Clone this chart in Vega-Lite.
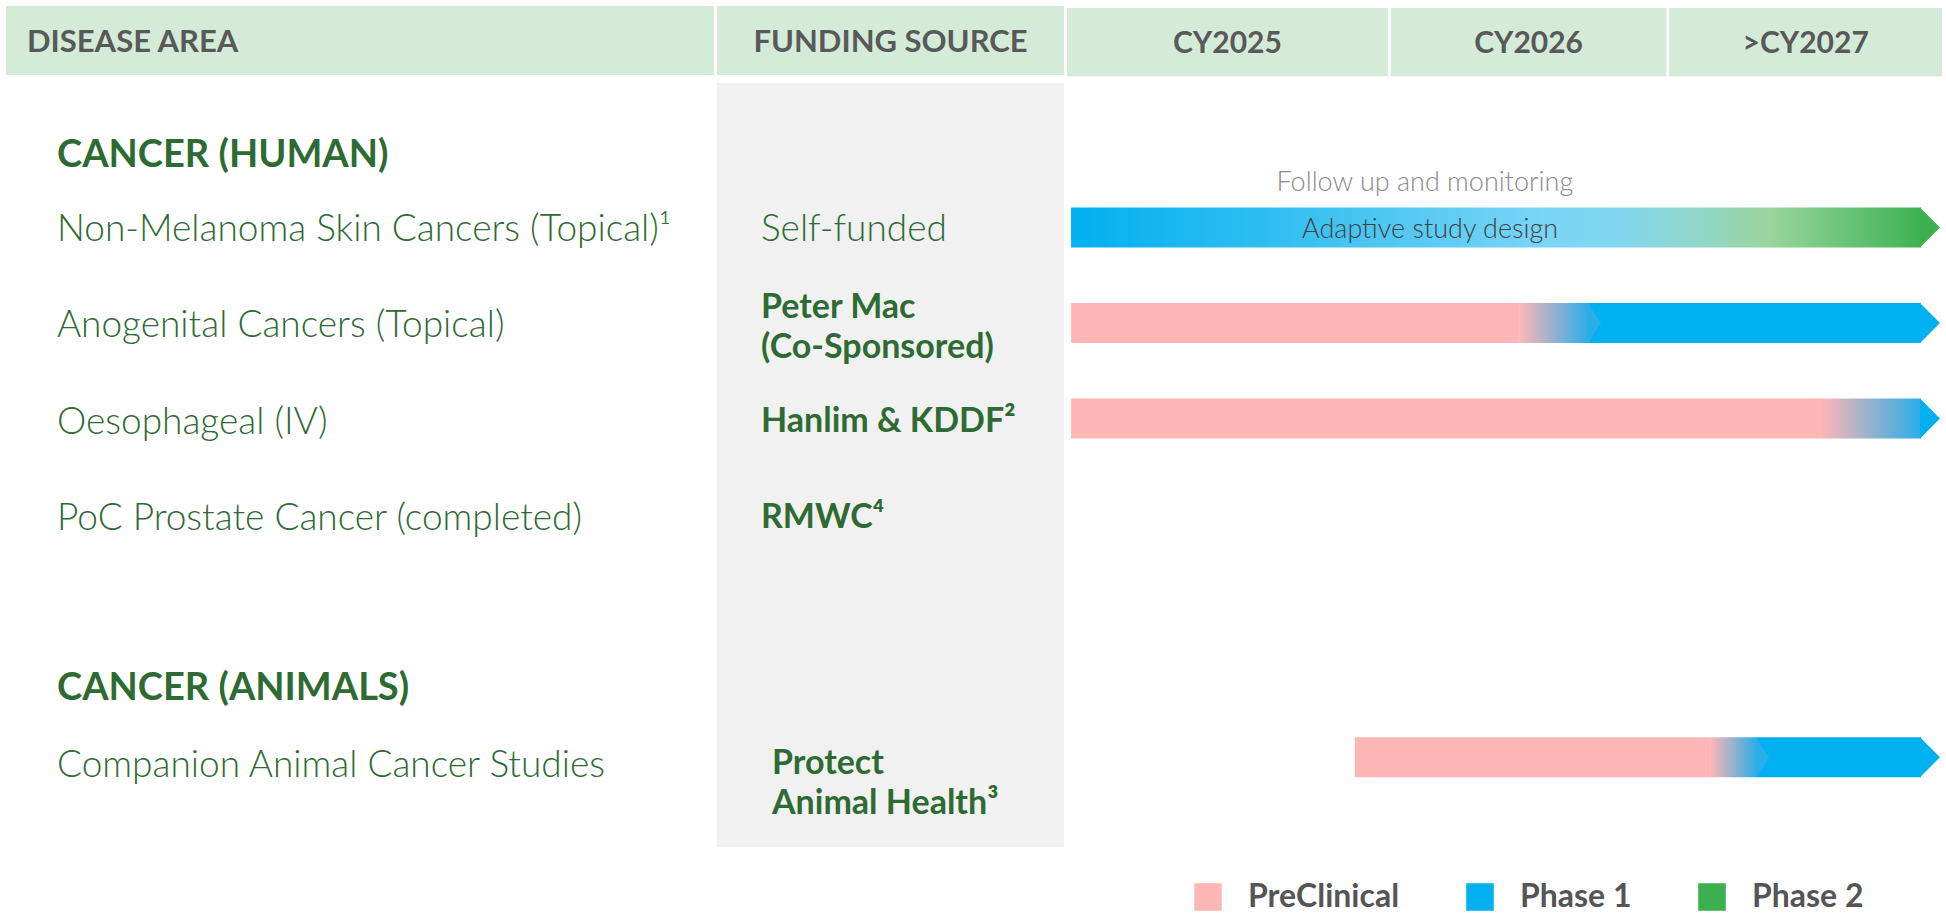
{
  "$schema": "https://vega.github.io/schema/vega-lite/v6.json",
  "padding": {"left": 6, "top": 6, "right": 4, "bottom": 0},
  "background": "white",
  "bounds": "flush",
  "spacing": 3,
  "config": {
    "view": {"stroke": null},
    "text": {"font": "Lato"},
    "legend": {"labelFont": "Lato"}
  },
  "datasets": {
    "columns": [
      {"column": "DISEASE AREA"},
      {"column": "FUNDING SOURCE"},
      {"column": "CY2025", "start": 2025.0, "end": 2026.1},
      {"column": "CY2026", "start": 2026.11, "end": 2027.055},
      {"column": ">CY2027", "start": 2027.065, "end": 2028.0}
    ],
    "sections": [
      {"section": "CANCER (HUMAN)", "line": 0.25},
      {"section": "CANCER (ANIMALS)", "line": 5.78}
    ],
    "programs": [
      {"program": "Non-Melanoma Skin Cancers (Topical)¹", "funding": "Self-funded", "line": 1},
      {"program": "Anogenital Cancers (Topical)", "funding": "Peter Mac\n(Co-Sponsored)", "line": 2},
      {"program": "Oesophageal (IV)", "funding": "Hanlim & KDDF²", "line": 3},
      {"program": "PoC Prostate Cancer (completed)", "funding": "RMWC⁴", "line": 4},
      {"program": "Companion Animal Cancer Studies", "funding": "Protect\nAnimal Health³", "line": 6.55}
    ],
    "segments": [
      {"line": 1, "phase": "Phase 1→Phase 2", "start": 2025.014, "end": 2027.928},
      {"line": 2, "phase": "PreClinical", "start": 2025.014, "end": 2026.55},
      {"line": 2, "phase": "Phase 1", "start": 2026.79, "end": 2027.928},
      {"line": 2, "phase": "PreClinical→Phase 1", "start": 2026.55, "end": 2026.79},
      {"line": 3, "phase": "PreClinical", "start": 2025.014, "end": 2027.585},
      {"line": 3, "phase": "PreClinical→Phase 1", "start": 2027.585, "end": 2027.928},
      {"line": 6.55, "phase": "PreClinical", "start": 2025.987, "end": 2027.205},
      {"line": 6.55, "phase": "Phase 1", "start": 2027.366, "end": 2027.928},
      {"line": 6.55, "phase": "PreClinical→Phase 1", "start": 2027.205, "end": 2027.366}
    ],
    "notes": [
      {"note": "Follow up and monitoring", "year": 2026.227, "line": 0.53, "kind": "above"},
      {"note": "Adaptive study design", "year": 2026.245, "line": 1.03, "kind": "inside"}
    ]
  },
  "resolve": {
    "scale": {"x": "independent", "y": "independent", "color": "independent"},
    "legend": {"color": "independent"}
  },
  "hconcat": [
    {
      "width": 708,
      "height": 907,
      "layer": [
        {
          "data": {"name": "columns"},
          "transform": [{"filter": "datum.column === 'DISEASE AREA'"}],
          "mark": {"type": "rect", "fill": "#D4EBD8"},
          "encoding": {
            "x": {"datum": 0, "type": "quantitative", "scale": {"domain": [0, 1]}, "axis": null},
            "x2": {"datum": 1},
            "y": {"datum": -1.3, "type": "quantitative", "scale": {"domain": [-1.3, 8.099], "reverse": true, "nice": false, "zero": false}, "axis": null},
            "y2": {"datum": -0.585}
          }
        },
        {
          "data": {"name": "columns"},
          "transform": [{"filter": "datum.column === 'DISEASE AREA'"}],
          "mark": {"type": "text", "align": "left", "baseline": "middle", "dx": 21, "dy": 2, "fontSize": 31, "fontWeight": "bold", "color": "#595959"},
          "encoding": {
            "x": {"datum": 0, "type": "quantitative", "scale": {"domain": [0, 1]}, "axis": null},
            "y": {"datum": -0.94, "type": "quantitative", "scale": {"domain": [-1.3, 8.099], "reverse": true, "nice": false, "zero": false}, "axis": null},
            "text": {"field": "column"}
          }
        },
        {
          "data": {"name": "sections"},
          "mark": {"type": "text", "align": "left", "baseline": "middle", "dx": 51, "fontSize": 38, "fontWeight": "bold", "color": "#2E6B33"},
          "encoding": {
            "x": {"datum": 0, "type": "quantitative", "scale": {"domain": [0, 1]}, "axis": null},
            "y": {"field": "line", "type": "quantitative", "scale": {"domain": [-1.3, 8.099], "reverse": true, "nice": false, "zero": false}, "axis": null},
            "text": {"field": "section"}
          }
        },
        {
          "data": {"name": "programs"},
          "mark": {"type": "text", "align": "left", "baseline": "middle", "dx": 51, "dy": 2, "fontSize": 37, "fontWeight": 300, "color": "#2E6B33"},
          "encoding": {
            "x": {"datum": 0, "type": "quantitative", "scale": {"domain": [0, 1]}, "axis": null},
            "y": {"field": "line", "type": "quantitative", "scale": {"domain": [-1.3, 8.099], "reverse": true, "nice": false, "zero": false}, "axis": null},
            "text": {"field": "program"}
          }
        }
      ]
    },
    {
      "width": 347,
      "height": 907,
      "layer": [
        {
          "data": {"name": "columns"},
          "transform": [{"filter": "datum.column === 'FUNDING SOURCE'"}],
          "mark": {"type": "rect", "fill": "#F1F1F1"},
          "encoding": {
            "x": {"datum": 0, "type": "quantitative", "scale": {"domain": [0, 1]}, "axis": null},
            "x2": {"datum": 1},
            "y": {"datum": -0.502, "type": "quantitative", "scale": {"domain": [-1.3, 8.099], "reverse": true, "nice": false, "zero": false}, "axis": null},
            "y2": {"datum": 7.415}
          }
        },
        {
          "data": {"name": "columns"},
          "transform": [{"filter": "datum.column === 'FUNDING SOURCE'"}],
          "mark": {"type": "rect", "fill": "#D4EBD8"},
          "encoding": {
            "x": {"datum": 0, "type": "quantitative", "scale": {"domain": [0, 1]}, "axis": null},
            "x2": {"datum": 1},
            "y": {"datum": -1.3, "type": "quantitative", "scale": {"domain": [-1.3, 8.099], "reverse": true, "nice": false, "zero": false}, "axis": null},
            "y2": {"datum": -0.585}
          }
        },
        {
          "data": {"name": "columns"},
          "transform": [{"filter": "datum.column === 'FUNDING SOURCE'"}],
          "mark": {"type": "text", "align": "center", "baseline": "middle", "dy": 2, "fontSize": 31, "fontWeight": "bold", "color": "#595959"},
          "encoding": {
            "x": {"datum": 0.5, "type": "quantitative", "scale": {"domain": [0, 1]}, "axis": null},
            "y": {"datum": -0.94, "type": "quantitative", "scale": {"domain": [-1.3, 8.099], "reverse": true, "nice": false, "zero": false}, "axis": null},
            "text": {"field": "column"}
          }
        },
        {
          "data": {"name": "programs"},
          "transform": [{"filter": "datum.funding === 'Self-funded'"}],
          "mark": {"type": "text", "align": "left", "baseline": "middle", "dx": 44, "dy": 2, "fontSize": 37, "fontWeight": 300, "color": "#2E6B33"},
          "encoding": {
            "x": {"datum": 0, "type": "quantitative", "scale": {"domain": [0, 1]}, "axis": null},
            "y": {"field": "line", "type": "quantitative", "scale": {"domain": [-1.3, 8.099], "reverse": true, "nice": false, "zero": false}, "axis": null},
            "text": {"field": "funding"}
          }
        },
        {
          "data": {"name": "programs"},
          "transform": [{"filter": "datum.funding !== 'Self-funded' && datum.line < 6 && indexof(datum.funding, '\\n') < 0"}],
          "mark": {"type": "text", "align": "left", "baseline": "middle", "dx": 44, "dy": 1, "fontSize": 34, "fontWeight": "bold", "color": "#2E6B33"},
          "encoding": {
            "x": {"datum": 0, "type": "quantitative", "scale": {"domain": [0, 1]}, "axis": null},
            "y": {"field": "line", "type": "quantitative", "scale": {"domain": [-1.3, 8.099], "reverse": true, "nice": false, "zero": false}, "axis": null},
            "text": {"field": "funding"}
          }
        },
        {
          "data": {"name": "programs"},
          "transform": [{"filter": "datum.line < 6 && indexof(datum.funding, '\\n') >= 0"}],
          "mark": {"type": "text", "align": "left", "baseline": "middle", "dx": 44, "dy": -16, "fontSize": 34, "fontWeight": "bold", "lineBreak": "\n", "lineHeight": 40, "color": "#2E6B33"},
          "encoding": {
            "x": {"datum": 0, "type": "quantitative", "scale": {"domain": [0, 1]}, "axis": null},
            "y": {"field": "line", "type": "quantitative", "scale": {"domain": [-1.3, 8.099], "reverse": true, "nice": false, "zero": false}, "axis": null},
            "text": {"field": "funding"}
          }
        },
        {
          "data": {"name": "programs"},
          "transform": [{"filter": "datum.line > 6"}],
          "mark": {"type": "text", "align": "left", "baseline": "middle", "dx": 55, "dy": 0, "fontSize": 34, "fontWeight": "bold", "lineBreak": "\n", "lineHeight": 40, "color": "#2E6B33"},
          "encoding": {
            "x": {"datum": 0, "type": "quantitative", "scale": {"domain": [0, 1]}, "axis": null},
            "y": {"field": "line", "type": "quantitative", "scale": {"domain": [-1.3, 8.099], "reverse": true, "nice": false, "zero": false}, "axis": null},
            "text": {"field": "funding"}
          }
        }
      ]
    },
    {
      "width": 875,
      "height": 907,
      "layer": [
        {
          "data": {"name": "columns"},
          "transform": [{"filter": "isValid(datum.start)"}],
          "mark": {"type": "rect", "fill": "#D4EBD8"},
          "encoding": {
            "x": {"field": "start", "type": "quantitative", "scale": {"domain": [2025, 2028], "nice": false, "zero": false}, "axis": null},
            "x2": {"field": "end"},
            "y": {"datum": -1.3, "type": "quantitative", "scale": {"domain": [-1.269, 8.13], "reverse": true, "nice": false, "zero": false}, "axis": null},
            "y2": {"datum": -0.585}
          }
        },
        {
          "data": {"name": "columns"},
          "transform": [{"filter": "isValid(datum.start)"}, {"calculate": "(datum.start + datum.end) / 2", "as": "mid"}],
          "mark": {"type": "text", "align": "center", "baseline": "middle", "dy": 2, "fontSize": 30, "fontWeight": "bold", "color": "#595959"},
          "encoding": {
            "x": {"field": "mid", "type": "quantitative", "scale": {"domain": [2025, 2028], "nice": false, "zero": false}, "axis": null},
            "y": {"datum": -0.94, "type": "quantitative", "scale": {"domain": [-1.269, 8.13], "reverse": true, "nice": false, "zero": false}, "axis": null},
            "text": {"field": "column"}
          }
        },
        {
          "data": {"name": "segments"},
          "transform": [{"filter": "datum.phase === 'PreClinical' || datum.phase === 'Phase 1'"}],
          "mark": {"type": "bar", "orient": "horizontal", "size": 40, "opacity": 1},
          "encoding": {
            "x": {"field": "start", "type": "quantitative", "scale": {"domain": [2025, 2028], "nice": false, "zero": false}, "axis": null},
            "x2": {"field": "end"},
            "y": {"field": "line", "type": "quantitative", "scale": {"domain": [-1.269, 8.13], "reverse": true, "nice": false, "zero": false}, "axis": null},
            "color": {
              "field": "phase",
              "type": "nominal",
              "scale": {"domain": ["PreClinical", "Phase 1", "Phase 2"], "range": ["#FFB6B6", "#00B0F0", "#3CB04E"]},
              "legend": {
                "orient": "none",
                "legendX": 125,
                "legendY": 875,
                "direction": "horizontal",
                "title": null,
                "symbolType": "square",
                "symbolSize": 760,
                "symbolStrokeWidth": 0,
                "symbolOpacity": 1,
                "labelFont": "Lato",
                "labelFontSize": 32,
                "labelFontWeight": "bold",
                "labelColor": "#555555",
                "labelOffset": 24,
                "columnPadding": 64
              }
            }
          }
        },
        {
          "data": {"name": "segments"},
          "transform": [{"filter": "datum.phase === 'PreClinical→Phase 1'"}],
          "mark": {
            "type": "bar", "orient": "horizontal", "size": 40,
            "color": {"gradient": "linear", "x1": 0, "x2": 1, "y1": 0, "y2": 0, "stops": [{"offset": 0, "color": "#FFB6B6"}, {"offset": 1, "color": "#2AAEE8"}]}
          },
          "encoding": {
            "x": {"field": "start", "type": "quantitative", "scale": {"domain": [2025, 2028], "nice": false, "zero": false}, "axis": null},
            "x2": {"field": "end"},
            "y": {"field": "line", "type": "quantitative", "scale": {"domain": [-1.269, 8.13], "reverse": true, "nice": false, "zero": false}, "axis": null}
          }
        },
        {
          "data": {"name": "segments"},
          "transform": [{"filter": "datum.phase === 'PreClinical→Phase 1' && datum.end < 2027.9"}],
          "mark": {"type": "point", "filled": true, "opacity": 1, "strokeWidth": 0, "shape": "M-0.05,-1L0.6,0L-0.05,1Z", "size": 1600, "color": "#2AAEE8"},
          "encoding": {
            "x": {"field": "end", "type": "quantitative", "scale": {"domain": [2025, 2028], "nice": false, "zero": false}, "axis": null},
            "y": {"field": "line", "type": "quantitative", "scale": {"domain": [-1.269, 8.13], "reverse": true, "nice": false, "zero": false}, "axis": null}
          }
        },
        {
          "data": {"name": "segments"},
          "transform": [{"filter": "datum.phase === 'Phase 1→Phase 2'"}],
          "mark": {
            "type": "bar", "orient": "horizontal", "size": 40,
            "color": {"gradient": "linear", "x1": 0, "x2": 1, "y1": 0, "y2": 0, "stops": [
              {"offset": 0, "color": "#00B0F0"},
              {"offset": 0.3, "color": "#3EC2F1"},
              {"offset": 0.56, "color": "#7BD5F6"},
              {"offset": 0.64, "color": "#80D6F0"},
              {"offset": 0.73, "color": "#90D6CC"},
              {"offset": 0.82, "color": "#9AD59E"},
              {"offset": 1, "color": "#3DB352"}
            ]}
          },
          "encoding": {
            "x": {"field": "start", "type": "quantitative", "scale": {"domain": [2025, 2028], "nice": false, "zero": false}, "axis": null},
            "x2": {"field": "end"},
            "y": {"field": "line", "type": "quantitative", "scale": {"domain": [-1.269, 8.13], "reverse": true, "nice": false, "zero": false}, "axis": null}
          }
        },
        {
          "data": {"name": "segments"},
          "transform": [
            {"filter": "datum.end >= 2027.9"},
            {"calculate": "replace(datum.phase, /^.*→/, '')", "as": "endPhase"}
          ],
          "mark": {"type": "point", "filled": true, "opacity": 1, "strokeWidth": 0, "shape": "M-0.05,-1L0.95,0L-0.05,1Z", "size": 1600},
          "encoding": {
            "x": {"field": "end", "type": "quantitative", "scale": {"domain": [2025, 2028], "nice": false, "zero": false}, "axis": null},
            "y": {"field": "line", "type": "quantitative", "scale": {"domain": [-1.269, 8.13], "reverse": true, "nice": false, "zero": false}, "axis": null},
            "color": {"field": "endPhase", "type": "nominal", "scale": {"domain": ["PreClinical", "Phase 1", "Phase 2"], "range": ["#FFB6B6", "#00B0F0", "#3DB352"]}, "legend": null}
          }
        },
        {
          "data": {"name": "notes"},
          "transform": [{"filter": "datum.kind === 'above'"}],
          "mark": {"type": "text", "align": "center", "baseline": "middle", "fontSize": 27, "fontWeight": 300, "color": "#8A8A8A"},
          "encoding": {
            "x": {"field": "year", "type": "quantitative", "scale": {"domain": [2025, 2028], "nice": false, "zero": false}, "axis": null},
            "y": {"field": "line", "type": "quantitative", "scale": {"domain": [-1.269, 8.13], "reverse": true, "nice": false, "zero": false}, "axis": null},
            "text": {"field": "note"}
          }
        },
        {
          "data": {"name": "notes"},
          "transform": [{"filter": "datum.kind === 'inside'"}],
          "mark": {"type": "text", "align": "center", "baseline": "middle", "fontSize": 27, "fontWeight": 300, "color": "#404040"},
          "encoding": {
            "x": {"field": "year", "type": "quantitative", "scale": {"domain": [2025, 2028], "nice": false, "zero": false}, "axis": null},
            "y": {"field": "line", "type": "quantitative", "scale": {"domain": [-1.269, 8.13], "reverse": true, "nice": false, "zero": false}, "axis": null},
            "text": {"field": "note"}
          }
        }
      ]
    }
  ]
}
